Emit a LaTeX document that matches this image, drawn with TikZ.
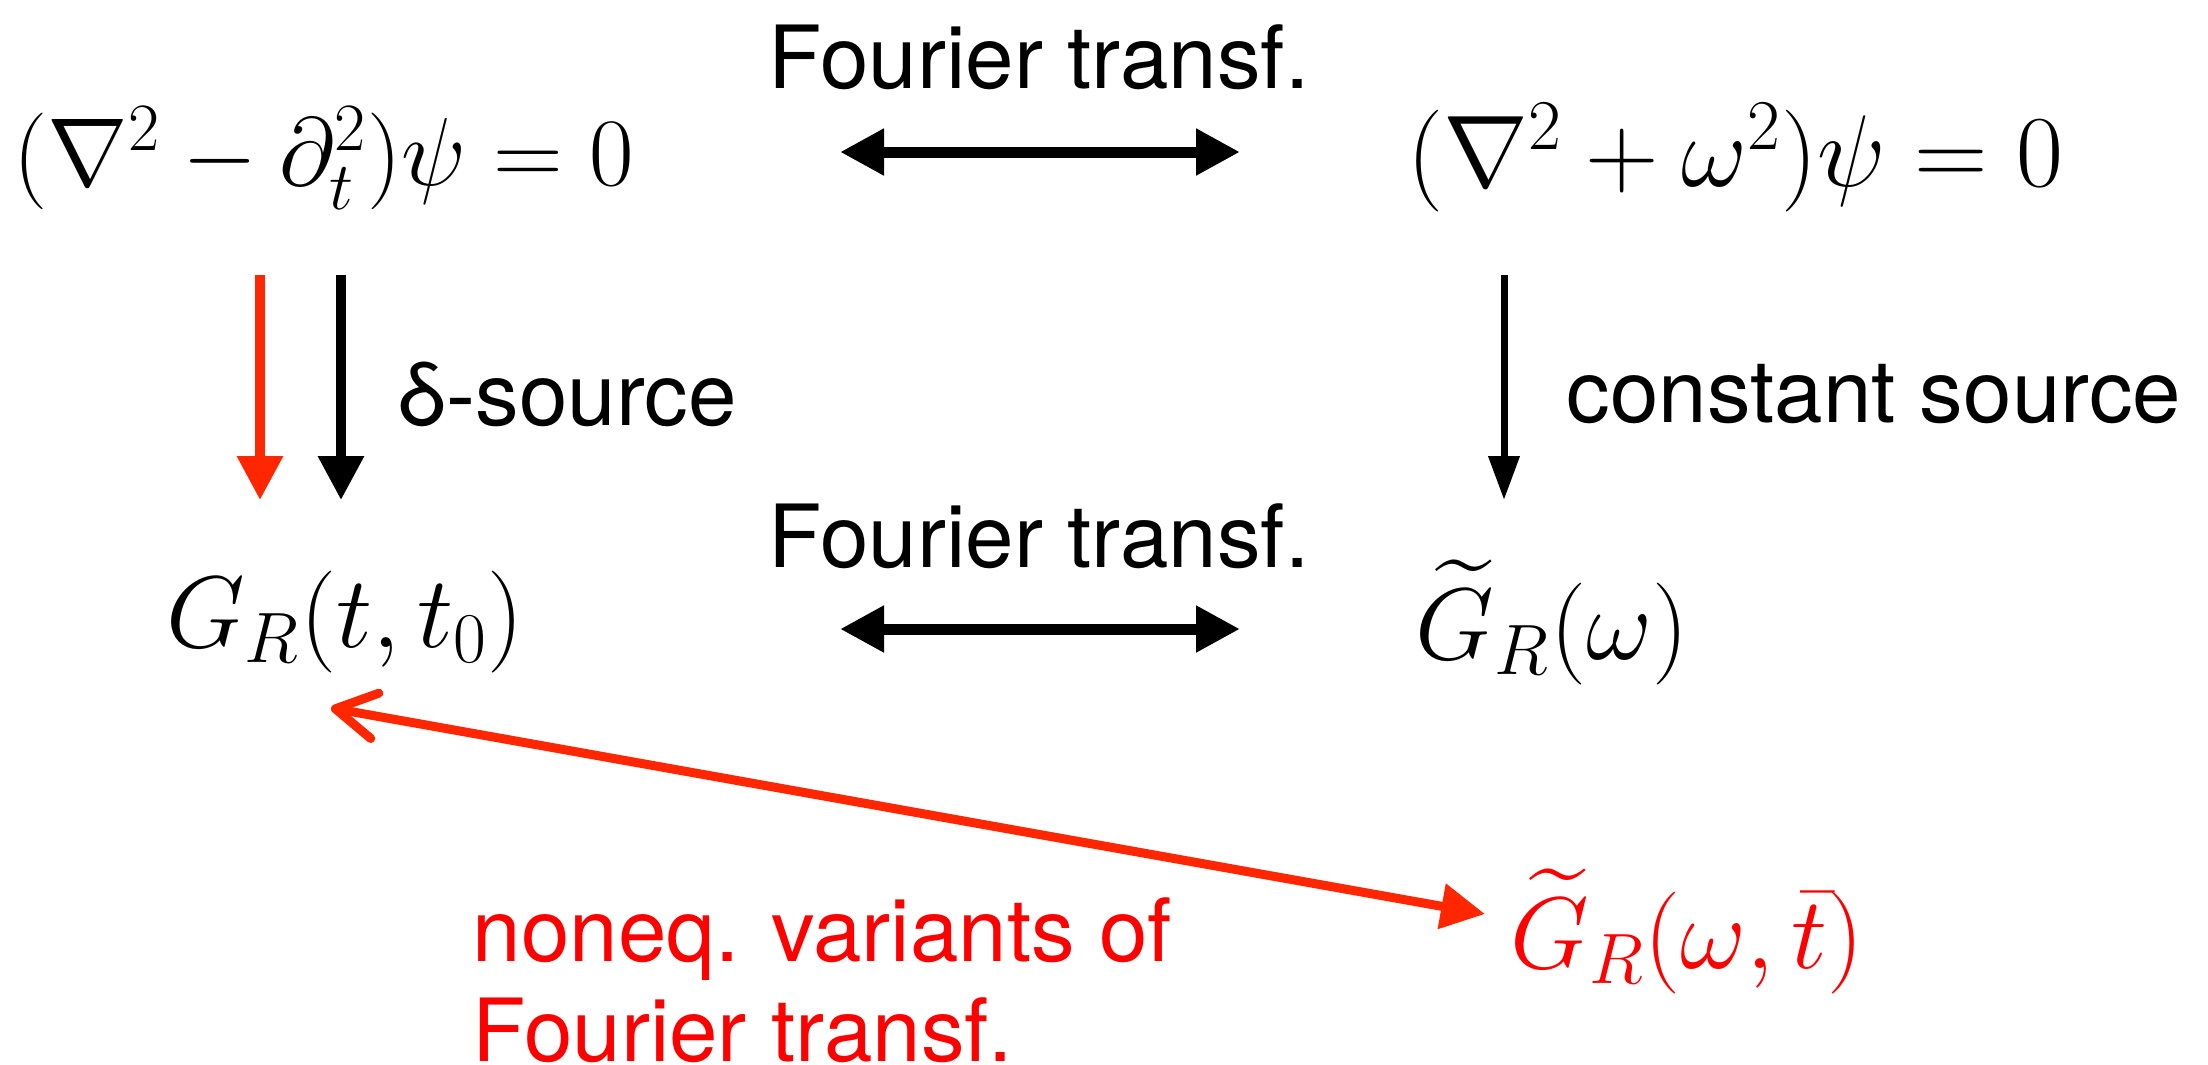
\RequirePackage{fix-cm}
\documentclass[tikz,border=0pt]{standalone}
\usepackage{amsmath,amssymb}
\usepackage[no-math]{fontspec}
\newfontfamily\heros{TeX Gyre Heros}
\usetikzlibrary{arrows.meta,positioning,calc}
\definecolor{arrred}{RGB}{255,38,0}
\definecolor{txtred}{RGB}{255,0,0}
\tikzset{
  dbl/.style={{Triangle[length=0.44cm,width=0.44cm]}-{Triangle[length=0.44cm,width=0.44cm]},line width=0.11cm},
  down/.style={-{Triangle[length=0.44cm,width=0.44cm]},line width=0.095cm},
  lbl/.style={font=\heros\fontsize{24.8}{28.5}\selectfont},
  eq/.style={font=\fontsize{29}{34}\selectfont}
}
\begin{document}
\begin{tikzpicture}[inner sep=0pt]
\useasboundingbox (0,0) rectangle (22.08,-10.64);
\node[eq,font=\fontsize{27.5}{33}\selectfont] (wave) at (3.24,-1.58) {$(\nabla^2-\partial_t^2)\psi=0$};
\node[eq] (helm) at (17.35,-1.58) {$(\nabla^2+\omega^2)\psi=0$};
\node[lbl] (ft1) at (10.39,-0.57) {Fourier transf.};
\coordinate (t1) at (8.40,-1.52);
\coordinate (t2) at (12.40,-1.52);
\draw[dbl] (t1) -- (t2);

\node[eq] (gr) at (3.45,-6.22) {$G_R(t,t_0)$};
\node[eq] (grw) at (15.52,-6.22) {$\widetilde{G}_R(\omega)$};
\node[lbl] (ft2) at (10.39,-5.36) {Fourier transf.};
\coordinate (b1) at (8.40,-6.29);
\coordinate (b2) at (12.40,-6.29);
\draw[dbl] (b1) -- (b2);

% vertical arrows
\draw[down,arrred] (2.60,-2.75) -- (2.60,-5.00);
\draw[down] (3.41,-2.75) -- (3.41,-5.00);
\node[lbl,anchor=west] (delta) at (3.98,-3.94) {δ-source};
\draw[-{Triangle[length=0.44cm,width=0.30cm]},line width=0.07cm] (15.04,-2.75) -- (15.04,-5.00);
\node[lbl,anchor=west] (const) at (15.66,-3.94) {constant source};

% noneq. variants
\node[eq,text=txtred] (grwt) at (16.87,-9.31) {$\widetilde{G}_R(\omega,\bar{t})$};
\coordinate (r1) at (3.31,-7.08);
\coordinate (r2) at (14.85,-9.14);
\draw[arrred,line width=0.09cm,line cap=round,
  {Straight Barb[length=0.40cm,width=0.46cm,line cap=round,line join=round]}-{Triangle[length=0.44cm,width=0.44cm]}] (r1) -- (r2);
\node[lbl,text=txtred,anchor=west,align=left] (noneq) at (4.72,-9.80) {noneq. variants of\\Fourier transf.};
\end{tikzpicture}
\end{document}
